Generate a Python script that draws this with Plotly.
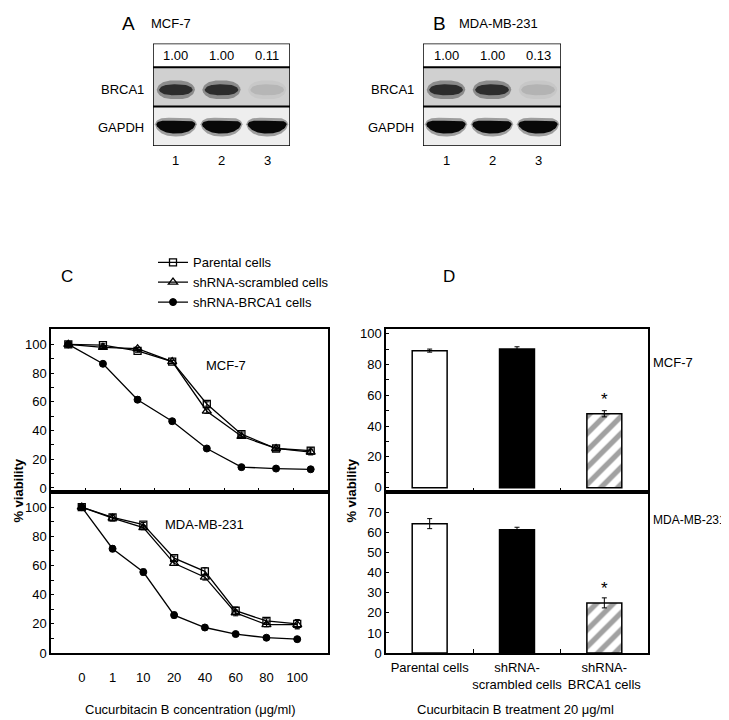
import numpy as np
import plotly.graph_objects as go

# ---------------- data ----------------
concentrations = ["0", "1", "10", "20", "40", "60", "80", "100"]

mcf7_parental = [100, 99.5, 95.5, 88, 58.5, 37.5, 27.5, 26]
mcf7_parental_err = [0.5, 1, 1, 1, 1.5, 1.5, 1, 2]
mcf7_scrambled = [100, 98, 97, 88, 53.5, 36, 27.5, 25]
mcf7_scrambled_err = [0.5, 1, 1, 1, 1.5, 1.5, 1, 2]
mcf7_brca1 = [100, 86.5, 61.5, 46.5, 27.5, 14.5, 13.5, 13]
mcf7_brca1_err = [0.5, 1, 2, 1.5, 1, 1, 0.5, 1]

mda_parental = [100, 93, 88, 65, 56, 29, 22, 20]
mda_parental_err = [0.5, 2, 1.5, 1.5, 2.5, 2.5, 1.5, 3]
mda_scrambled = [100, 92.5, 86, 61.5, 52, 27.5, 19.5, 19.5]
mda_scrambled_err = [0.5, 2, 1.5, 1.5, 2, 2, 1.5, 3]
mda_brca1 = [100, 71.5, 55.5, 26, 17.5, 13, 10.5, 9.5]
mda_brca1_err = [0.5, 2, 2, 2, 1.5, 1, 1, 1]

groups = ["Parental cells", "shRNA-<br>scrambled cells", "shRNA-<br>BRCA1 cells"]
mcf7_bar = [89, 90, 48]
mcf7_bar_err = [1, 1.5, 2]
mda_bar = [64.5, 61.5, 25]
mda_bar_err = [2.5, 1.2, 2.5]

lanes = [1, 2, 3]
mcf7_blot = [1.00, 1.00, 0.11]
mda_blot = [1.00, 1.00, 0.13]

series_names = ["Parental cells", "shRNA-scrambled cells", "shRNA-BRCA1 cells"]

FONT = "Liberation Sans, Arial, sans-serif"
W, H = 729, 720


def px(x):
    return x / W


def py(y):
    return 1 - y / H


fig = go.Figure()

# ---------------- panel C line charts ----------------
markers = [
    dict(symbol="square-open", size=7, color="black", line=dict(width=1.3, color="black")),
    dict(symbol="triangle-up-open", size=8, color="black", line=dict(width=1.3, color="black")),
    dict(symbol="circle", size=7, color="black", line=dict(width=1, color="black")),
]
mcf7_sets = [(mcf7_parental, mcf7_parental_err), (mcf7_scrambled, mcf7_scrambled_err), (mcf7_brca1, mcf7_brca1_err)]
mda_sets = [(mda_parental, mda_parental_err), (mda_scrambled, mda_scrambled_err), (mda_brca1, mda_brca1_err)]

for i, (vals, errs) in enumerate(mcf7_sets):
    fig.add_trace(go.Scatter(
        x=concentrations, y=vals, mode="lines+markers", name=series_names[i],
        line=dict(color="black", width=1.3), marker=markers[i],
        error_y=dict(type="data", array=errs, color="black", thickness=1, width=2.5),
        xaxis="x", yaxis="y", showlegend=True, hoverinfo="skip"))
for i, (vals, errs) in enumerate(mda_sets):
    fig.add_trace(go.Scatter(
        x=concentrations, y=vals, mode="lines+markers", name=series_names[i],
        line=dict(color="black", width=1.3), marker=markers[i],
        error_y=dict(type="data", array=errs, color="black", thickness=1, width=2.5),
        xaxis="x2", yaxis="y2", showlegend=False, hoverinfo="skip"))

# ---------------- panel D bars ----------------
bar_marker = dict(
    color=["white", "black", "white"],
    line=dict(color="black", width=1.5),
    pattern=dict(shape=["", "", "/"], fgcolor="black", bgcolor="white", size=12, solidity=0.45),
)
fig.add_trace(go.Bar(x=groups, y=mcf7_bar, width=0.4, marker=bar_marker,
                     error_y=dict(type="data", array=mcf7_bar_err, color="black", thickness=1, width=2.5),
                     xaxis="x3", yaxis="y3", showlegend=False, hoverinfo="skip"))
fig.add_trace(go.Bar(x=groups, y=mda_bar, width=0.4, marker=bar_marker,
                     error_y=dict(type="data", array=mda_bar_err, color="black", thickness=1, width=2.5),
                     xaxis="x4", yaxis="y4", showlegend=False, hoverinfo="skip"))

# ---------------- western blots (panels A, B) ----------------
BLOT_H = 104  # rows: GAPDH 0-40, BRCA1 40-80, numbers 80-104


def mix(bg, fg, a):
    c = [int(round(b + (f - b) * a)) for b, f in zip(bg, fg)]
    return "rgb(%d,%d,%d)" % tuple(c)


def band(c, yc, hw, hh, curve, n=50):
    t = np.linspace(-1, 1, n)
    prof = (1 - np.abs(t) ** 3) ** 0.6
    xs = c + hw * t
    top = yc + hh * prof + curve * t ** 2
    bot = yc - hh * prof + curve * t ** 2
    return np.concatenate([xs, xs[::-1]]), np.concatenate([top, bot[::-1]])


BRCA_BG = (208, 208, 208)
GAPDH_BG = (238, 238, 238)
DARK = (35, 35, 35)
BLACK = (8, 8, 8)

shapes = []
annotations = []

for k, (vals, xa, ya) in enumerate([(mcf7_blot, "x5", "y5"), (mda_blot, "x6", "y6")]):
    shapes.append(dict(type="rect", xref=xa, yref=ya, x0=0.5, x1=3.5, y0=40, y1=80,
                       fillcolor=mix(BRCA_BG, BRCA_BG, 0), line=dict(width=0), layer="below"))
    shapes.append(dict(type="rect", xref=xa, yref=ya, x0=0.5, x1=3.5, y0=0, y1=40,
                       fillcolor=mix(GAPDH_BG, GAPDH_BG, 0), line=dict(width=0), layer="below"))
    for lane, v in zip(lanes, vals):
        # BRCA1 band (blur + core)
        bx, by = band(lane, 57, 0.42, 9.5, 0)
        fig.add_trace(go.Scatter(x=bx, y=by, mode="lines", fill="toself", line=dict(width=0),
                                 fillcolor=mix(BRCA_BG, DARK, 0.4 * v), xaxis=xa, yaxis=ya,
                                 showlegend=False, hoverinfo="skip"))
        bx, by = band(lane, 57, 0.37, 5.5, 0)
        fig.add_trace(go.Scatter(x=bx, y=by, mode="lines", fill="toself", line=dict(width=0),
                                 fillcolor=mix(BRCA_BG, DARK, 0.9 * v + 0.05), xaxis=xa, yaxis=ya,
                                 showlegend=False, hoverinfo="skip"))
        # GAPDH band
        gx, gy = band(lane, 19, 0.46, 9.5, 3)
        fig.add_trace(go.Scatter(x=gx, y=gy, mode="lines", fill="toself", line=dict(width=0),
                                 fillcolor=mix(GAPDH_BG, BLACK, 0.35), xaxis=xa, yaxis=ya,
                                 showlegend=False, hoverinfo="skip"))
        gx, gy = band(lane, 19, 0.43, 6.5, 3)
        fig.add_trace(go.Scatter(x=gx, y=gy, mode="lines", fill="toself", line=dict(width=0),
                                 fillcolor=mix(GAPDH_BG, BLACK, 1.0), xaxis=xa, yaxis=ya,
                                 showlegend=False, hoverinfo="skip"))
        annotations.append(dict(xref=xa, yref=ya, x=lane, y=92, text="%.2f" % v, showarrow=False,
                                font=dict(size=13, family=FONT, color="black")))
        annotations.append(dict(xref=xa, yref=ya + " domain", x=lane, y=-0.145, text=str(lane),
                                showarrow=False, yanchor="middle",
                                font=dict(size=13, family=FONT, color="black")))
    shapes.append(dict(type="rect", xref=xa, yref=ya, x0=0.5, x1=3.5, y0=0, y1=BLOT_H,
                       line=dict(width=1.5, color="black"), layer="above"))
    for yy in (40, 80):
        shapes.append(dict(type="line", xref=xa, yref=ya, x0=0.5, x1=3.5, y0=yy, y1=yy,
                           line=dict(width=2, color="black"), layer="above"))
    annotations.append(dict(xref=xa + " domain", yref=ya, x=-0.05, y=57, text="BRCA1", showarrow=False,
                            xanchor="right", font=dict(size=13, family=FONT, color="black")))
    annotations.append(dict(xref=xa + " domain", yref=ya, x=-0.05, y=19, text="GAPDH", showarrow=False,
                            xanchor="right", font=dict(size=13, family=FONT, color="black")))

# ---------------- text annotations ----------------
def txt(x, y, s, size=13, anchor="left", bold=False, angle=0):
    if bold:
        s = "<b>" + s + "</b>"
    return dict(xref="paper", yref="paper", x=px(x), y=py(y), text=s, showarrow=False,
                xanchor=anchor, yanchor="middle", textangle=angle,
                font=dict(size=size, family=FONT, color="black"))


annotations += [
    txt(112, 13, "A", size=19),
    txt(141, 13, "MCF-7", size=13),
    txt(423, 13, "B", size=19),
    txt(449, 13, "MDA-MB-231", size=13),
    txt(51, 270, "C", size=17),
    txt(433, 270, "D", size=17),
    txt(182, 709, "Cucurbitacin B concentration (μg/ml)", size=13, anchor="center"),
    txt(507, 709, "Cucurbitacin B treatment 20 μg/ml", size=13, anchor="center"),
    txt(11, 487, "% viability", size=13, anchor="center", bold=True, angle=-90),
    txt(344, 487, "% viability", size=13, anchor="center", bold=True, angle=-90),
    txt(643, 357, "MCF-7", size=13),
    txt(643, 517, "MDA-MB-231", size=12),
]
annotations.append(dict(xref="x domain", yref="y domain", x=0.632, y=0.836, text="MCF-7",
                        showarrow=False, font=dict(size=13, family=FONT, color="black")))
annotations.append(dict(xref="x2 domain", yref="y2 domain", x=0.704, y=0.855, text="MDA-MB-231",
                        showarrow=False, font=dict(size=13, family=FONT, color="black")))
# significance asterisks
annotations.append(dict(xref="x3", yref="y3", x=groups[2], y=mcf7_bar[2] + mcf7_bar_err[2], text="*",
                        showarrow=False, yanchor="middle", yshift=11,
                        font=dict(size=17, family=FONT, color="black")))
annotations.append(dict(xref="x4", yref="y4", x=groups[2], y=mda_bar[2] + mda_bar_err[2], text="*",
                        showarrow=False, yanchor="middle", yshift=9,
                        font=dict(size=17, family=FONT, color="black")))

# ---------------- axes ----------------
tickfont = dict(size=13, family=FONT, color="black")
C_X = [px(43), px(320)]
D_X = [px(378), px(640)]
TOP_Y = [py(488), py(323)]
BOT_Y = [py(652), py(488)]

common_y = dict(showline=True, linewidth=1.5, linecolor="black", mirror=True, showgrid=False,
                zeroline=False, ticks="inside", ticklen=3, tickcolor="black", tickfont=tickfont,
                fixedrange=True)
common_x = dict(showline=True, linewidth=1.5, linecolor="black", mirror=True, showgrid=False,
                zeroline=False, type="category", tickfont=tickfont, fixedrange=True, tickangle=0)

fig.update_layout(
    xaxis=dict(domain=C_X, anchor="y", range=[-0.5, 7.5], showticklabels=False, ticks="inside",
               tickson="boundaries", ticklen=4, tickcolor="black", **common_x),
    yaxis=dict(domain=TOP_Y, anchor="x", range=[-2.5, 110.7], tickvals=list(range(0, 101, 20)),
               minor=dict(tickvals=list(range(10, 101, 20)), ticks="inside", ticklen=3, tickcolor="black"),
               **common_y),
    xaxis2=dict(domain=C_X, anchor="y2", range=[-1, 8], ticks="", ticklabelstandoff=12, **common_x),
    yaxis2=dict(domain=BOT_Y, anchor="x2", range=[0, 110.7], tickvals=list(range(0, 101, 20)),
                minor=dict(tickvals=list(range(10, 101, 20)), ticks="inside", ticklen=3, tickcolor="black"),
                **common_y),
    xaxis3=dict(domain=D_X, anchor="y3", range=[-0.5, 2.5], showticklabels=False, ticks="inside",
                tickson="boundaries", ticklen=4, tickcolor="black", **common_x),
    yaxis3=dict(domain=TOP_Y, anchor="x3", range=[-2.5, 103], tickvals=list(range(0, 101, 20)),
                minor=dict(tickvals=list(range(10, 101, 20)), ticks="inside", ticklen=3, tickcolor="black"),
                **common_y),
    xaxis4=dict(domain=D_X, anchor="y4", range=[-0.5, 2.5], ticks="inside", tickson="boundaries",
                ticklen=4, tickcolor="black", ticklabelstandoff=2, **common_x),
    yaxis4=dict(domain=BOT_Y, anchor="x4", range=[0, 80.5], tickvals=list(range(0, 71, 10)), **common_y),
    xaxis5=dict(domain=[px(145), px(282)], anchor="y5", range=[0.5, 3.5], visible=False, fixedrange=True),
    yaxis5=dict(domain=[py(137), py(33)], anchor="x5", range=[0, BLOT_H], visible=False, fixedrange=True),
    xaxis6=dict(domain=[px(415), px(553)], anchor="y6", range=[0.5, 3.5], visible=False, fixedrange=True),
    yaxis6=dict(domain=[py(137), py(33)], anchor="x6", range=[0, BLOT_H], visible=False, fixedrange=True),
    shapes=shapes,
    annotations=annotations,
    width=W, height=H,
    margin=dict(l=0, r=0, t=0, b=0),
    paper_bgcolor="white", plot_bgcolor="white",
    font=dict(family=FONT, color="black", size=13),
    legend=dict(x=px(145), y=py(240), xanchor="left", yanchor="top", bgcolor="rgba(0,0,0,0)",
                font=dict(size=13, family=FONT, color="black"), tracegroupgap=0, itemwidth=30),
    bargap=0.6,
)

fig.write_html("out.html")
